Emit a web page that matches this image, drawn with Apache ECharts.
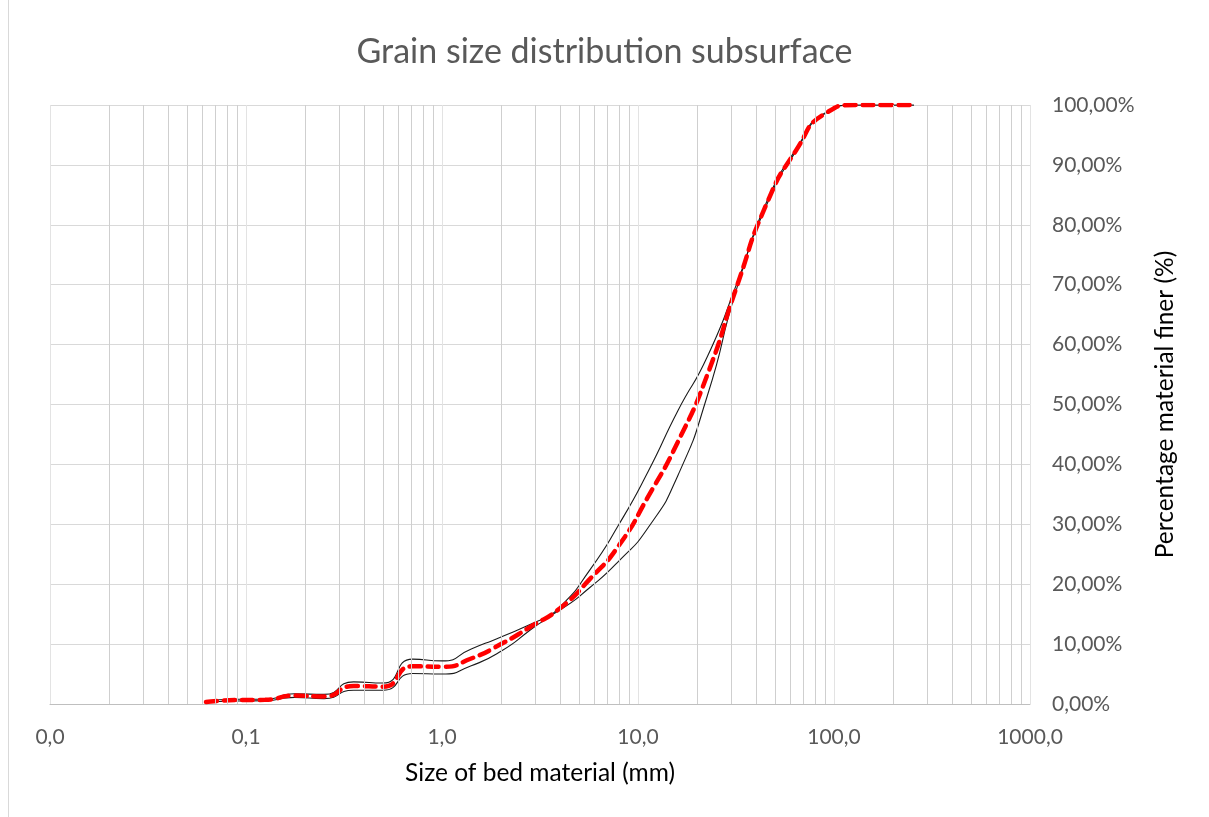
<!DOCTYPE html>
<html>
<head>
<meta charset="utf-8">
<script src="https://cdn.jsdelivr.net/npm/echarts@6/dist/echarts.min.js"></script>
<style>
html,body{margin:0;padding:0;background:#fff;}
#chart{position:absolute;left:0;top:0;width:1209px;height:817px;}
#edge{position:absolute;left:8px;top:0;width:0;height:817px;border-left:1px solid #d9d9d9;}
</style>
</head>
<body>
<div id="edge"></div>
<div id="chart"></div>
<script>
// Sieve sizes (mm), phi / half-phi scale
const sizes = [0.0625, 0.088, 0.125, 0.177, 0.25, 0.354, 0.5, 0.707, 1, 1.41, 2, 2.83, 4, 5.66, 8, 11.3, 16, 22.6, 32, 45.3, 64, 90.5, 128, 181, 256];
// Envelope curve A (lower for fine material, upper for coarse), % finer
const curveA = [0.25, 0.5, 0.55, 1.1, 0.9, 2.3, 2.3, 5.1, 5.0, 6.4, 8.8, 12.4, 16.2, 22.3, 30.0, 38.9, 49.0, 58.0, 70.3, 83.8, 92.6, 98.7, 100, 100, 100];
// Envelope curve B (upper for fine material, lower for coarse), % finer
const curveB = [0.45, 0.8, 0.8, 1.7, 1.6, 3.7, 3.5, 7.5, 7.2, 9.2, 11.2, 13.3, 15.7, 19.4, 23.9, 29.5, 38.2, 51.5, 69.5, 83.3, 92.3, 98.6, 100, 100, 100];
// Mean curve (red dashed), % finer
const curveMean = [0.35, 0.65, 0.7, 1.4, 1.25, 3.0, 2.9, 6.3, 6.2, 7.6, 10.0, 12.9, 16.0, 20.8, 26.5, 34.7, 43.8, 55.0, 69.8, 83.5, 92.4, 98.6, 100, 100, 100];
// Axis settings
const xMin = 0.01, xMax = 1000;
const yTicks = [0, 10, 20, 30, 40, 50, 60, 70, 80, 90, 100];

const pairs = arr => sizes.map((s, i) => [s, arr[i]]);

// Minor log gridlines at 2..9 × each decade
const minorLines = [];
for (let d = xMin; d < xMax; d *= 10) {
  for (let k = 2; k <= 9; k++) minorLines.push({ xAxis: +(d * k).toPrecision(6) });
}

const FONT = 'Lato, "Open Sans", sans-serif';
const SMOOTH = 0.6;
const chart = echarts.init(document.getElementById('chart'), null, { renderer: 'canvas' });
chart.setOption({
  animation: false,
  backgroundColor: 'transparent',
  title: {
    text: 'Grain size distribution subsurface',
    left: 'center', top: 30,
    textStyle: { fontFamily: FONT, fontSize: 34, fontWeight: 'normal', color: '#595959' }
  },
  grid: { left: 50, right: 179, top: 105, bottom: 113 },
  xAxis: {
    type: 'log', logBase: 10, min: xMin, max: xMax,
    name: 'Size of bed material (mm)', nameLocation: 'middle', nameGap: 57,
    nameTextStyle: { fontFamily: FONT, fontSize: 24.5, color: '#000' },
    axisLine: { show: true, lineStyle: { color: '#bfbfbf', width: 1 } },
    axisTick: { show: false },
    axisLabel: {
      margin: 23, fontFamily: FONT, fontSize: 21, color: '#595959',
      formatter: v => Number(v).toFixed(1).replace('.', ',')
    },
    splitLine: { show: true, lineStyle: { color: '#e3e3e3', width: 1 } }
  },
  yAxis: {
    type: 'value', position: 'right', min: 0, max: 100, interval: 10,
    name: 'Percentage material finer (%)', nameLocation: 'middle', nameGap: 123, nameRotate: 90,
    nameTextStyle: { fontFamily: FONT, fontSize: 24.5, color: '#000' },
    axisLine: { show: false }, axisTick: { show: false },
    axisLabel: {
      margin: 22, fontFamily: FONT, fontSize: 21, color: '#595959',
      formatter: v => yTicks.includes(v) ? v.toFixed(2).replace('.', ',') + '%' : ''
    },
    splitLine: { show: true, lineStyle: { color: '#d9d9d9', width: 1 } }
  },
  series: [
    {
      type: 'line', data: [], silent: true,
      markLine: {
        silent: true, symbol: 'none', animation: false,
        label: { show: false },
        lineStyle: { color: '#cfcfcf', width: 1, type: 'solid' },
        emphasis: { disabled: true },
        data: minorLines
      }
    },
    {
      name: 'A', type: 'line', data: pairs(curveA), smooth: SMOOTH, showSymbol: false, symbol: 'none',
      lineStyle: { color: '#1a1a1a', width: 1.1 }, z: 3
    },
    {
      name: 'B', type: 'line', data: pairs(curveB), smooth: SMOOTH, showSymbol: false, symbol: 'none',
      lineStyle: { color: '#1a1a1a', width: 1.1 }, z: 3
    },
    {
      name: 'Mean', type: 'line', data: pairs(curveMean), smooth: SMOOTH, showSymbol: false, symbol: 'none',
      lineStyle: { color: '#ff0000', width: 4.5, type: [11, 7], cap: 'round' }, z: 4
    }
  ]
});
</script>
</body>
</html>
